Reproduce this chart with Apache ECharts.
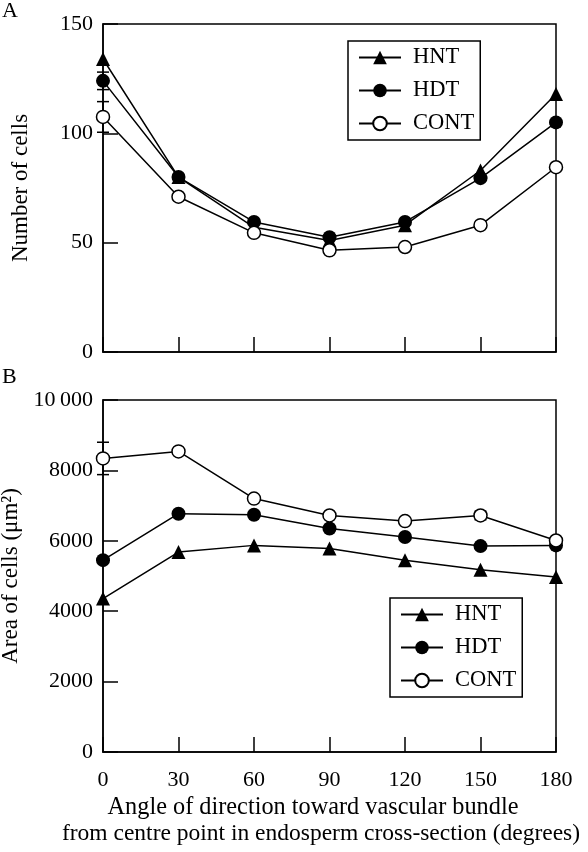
<!DOCTYPE html>
<html>
<head>
<meta charset="utf-8">
<script src="https://cdn.jsdelivr.net/npm/echarts@6/dist/echarts.min.js"></script>
<style>
html,body{margin:0;padding:0;background:#fff;}
#chart{width:588px;height:852px;}
</style>
</head>
<body>
<div id="chart"></div>
<script>
// ---- data ----
const angles = [0, 30, 60, 90, 120, 150, 180];
const seriesNames = ['HNT', 'HDT', 'CONT'];
// Panel A: number of cells
const cellsHNT  = [134, 80, 57, 51, 58, 83, 118];
const cellsHDT  = [124, 80, 59.5, 52.5, 59.5, 79.5, 105];
const cellsCONT = [107.5, 71, 54.5, 46.5, 48, 58, 84.5];
const cellsErrHDT  = [4, 0, 0, 0, 0, 0, 0];
const cellsErrCONT = [7, 0, 0, 0, 0, 0, 0];
// Panel B: area of cells (µm²)
const areaHNT  = [4360, 5680, 5870, 5780, 5450, 5180, 4970];
const areaHDT  = [5450, 6770, 6740, 6350, 6110, 5850, 5870];
const areaCONT = [8340, 8540, 7200, 6720, 6560, 6720, 6010];
const areaErrCONT = [460, 80, 0, 0, 0, 120, 0];
// axis ticks
const cellsTicks = [0, 50, 100, 150];
const areaTicks = [0, 2000, 4000, 6000, 8000, 10000];
const angleTicks = [0, 30, 60, 90, 120, 150, 180];

const FONT = 'Liberation Serif';
const chart = echarts.init(document.getElementById('chart'), null, {renderer: 'canvas'});

function pairs(vals) { return angles.map((a, i) => [a, vals[i]]); }
function errPairs(vals, errs) {
  return angles.map((a, i) => [a, vals[i], errs[i]]).filter(d => d[2] > 0);
}

const styles = {
  HNT:  {symbol: 'triangle', symbolSize: 14, fill: '#000'},
  HDT:  {symbol: 'circle', symbolSize: 14, fill: '#000'},
  CONT: {symbol: 'circle', symbolSize: 13, fill: '#fff'}
};

function lineSeries(name, vals, gi) {
  const s = styles[name];
  return {
    type: 'line', name: name, xAxisIndex: gi, yAxisIndex: gi,
    data: pairs(vals), symbol: s.symbol, symbolSize: s.symbolSize,
    showAllSymbol: true, animation: false, z: 3,
    lineStyle: {color: '#000', width: 1.5},
    itemStyle: {color: s.fill, borderColor: '#000', borderWidth: s.fill === '#fff' ? 1.5 : 0, opacity: 1},
    emphasis: {disabled: true}
  };
}

function errSeries(data, gi) {
  return {
    type: 'custom', xAxisIndex: gi, yAxisIndex: gi, data: data, z: 2, animation: false,
    silent: true,
    renderItem: function (params, api) {
      const x = api.value(0), v = api.value(1), e = api.value(2);
      const hi = api.coord([x, v + e]);
      const lo = api.coord([x, v - e]);
      const cw = 6;
      const st = {stroke: '#000', lineWidth: 1.5};
      return {type: 'group', children: [
        {type: 'line', shape: {x1: hi[0], y1: hi[1], x2: lo[0], y2: lo[1]}, style: st},
        {type: 'line', shape: {x1: hi[0] - cw, y1: hi[1], x2: hi[0] + cw, y2: hi[1]}, style: st},
        {type: 'line', shape: {x1: lo[0] - cw, y1: lo[1], x2: lo[0] + cw, y2: lo[1]}, style: st}
      ]};
    }
  };
}

function xAxis(gi, showLabels) {
  return {
    type: 'value', gridIndex: gi, min: angleTicks[0], max: angleTicks[angleTicks.length - 1], interval: 30,
    axisLine: {show: true, lineStyle: {color: '#000', width: 1.5}},
    axisTick: {show: true, inside: true, length: 15, lineStyle: {color: '#000', width: 1.5}},
    axisLabel: {show: showLabels, margin: 17, color: '#000', fontFamily: FONT, fontSize: 22},
    splitLine: {show: false}
  };
}

const legendBase = {
  orient: 'vertical', selectedMode: false,
  itemWidth: 42, itemHeight: 17, itemGap: 10,
  borderColor: '#000', borderWidth: 1.5, padding: [5, 6, 5, 10],
  textStyle: {fontFamily: FONT, fontSize: 22.5, color: '#000', padding: [0, 0, 0, 7]},
  data: seriesNames
};

const option = {
  backgroundColor: '#fff',
  animation: false,
  grid: [
    {left: 103, right: 32, top: 24, height: 328, show: true, borderColor: '#000', borderWidth: 1.5,
     containLabel: false, outerBoundsMode: 'none'},
    {left: 103, right: 32, top: 400, height: 352, show: true, borderColor: '#000', borderWidth: 1.5,
     containLabel: false, outerBoundsMode: 'none'}
  ],
  xAxis: [xAxis(0, false), xAxis(1, true)],
  yAxis: [
    {
      type: 'value', gridIndex: 0, min: cellsTicks[0], max: cellsTicks[cellsTicks.length - 1], interval: 50,
      name: 'Number of cells', nameLocation: 'middle', nameGap: 71,
      nameTextStyle: {fontFamily: FONT, fontSize: 23, color: '#000'},
      axisLine: {show: true, lineStyle: {color: '#000', width: 1.5}},
      axisTick: {show: true, inside: true, length: 15, lineStyle: {color: '#000', width: 1.5}},
      axisLabel: {margin: 10, color: '#000', fontFamily: FONT, fontSize: 22},
      splitLine: {show: false}
    },
    {
      type: 'value', gridIndex: 1, min: areaTicks[0], max: areaTicks[areaTicks.length - 1], interval: 2000,
      name: 'Area of cells (μm²)', nameLocation: 'middle', nameGap: 71,
      nameTextStyle: {fontFamily: FONT, fontSize: 23, color: '#000'},
      axisLine: {show: true, lineStyle: {color: '#000', width: 1.5}},
      axisTick: {show: true, inside: true, length: 15, lineStyle: {color: '#000', width: 1.5}},
      axisLabel: {margin: 10, color: '#000', fontFamily: FONT, fontSize: 22,
        formatter: v => v >= 10000 ? '10\u2009000' : String(v)},
      splitLine: {show: false}
    }
  ],
  legend: [
    Object.assign({}, legendBase, {left: 348, top: 41}),
    Object.assign({}, legendBase, {left: 390, top: 598})
  ],
  series: [
    errSeries(errPairs(cellsHDT, cellsErrHDT), 0),
    errSeries(errPairs(cellsCONT, cellsErrCONT), 0),
    lineSeries('HNT', cellsHNT, 0),
    lineSeries('HDT', cellsHDT, 0),
    lineSeries('CONT', cellsCONT, 0),
    errSeries(errPairs(areaCONT, areaErrCONT), 1),
    lineSeries('HNT', areaHNT, 1),
    lineSeries('HDT', areaHDT, 1),
    lineSeries('CONT', areaCONT, 1)
  ],
  graphic: [
    {type: 'text', left: 2, top: 0, style: {text: 'A', font: '22px "Liberation Serif"', fill: '#000'}},
    {type: 'text', left: 2, top: 366, style: {text: 'B', font: '22px "Liberation Serif"', fill: '#000'}},
    {type: 'text', x: 313, y: 808, style: {text: 'Angle of direction toward vascular bundle',
      font: '24.3px "Liberation Serif"', fill: '#000', align: 'center', verticalAlign: 'middle'}},
    {type: 'text', x: 321, y: 834, style: {text: 'from centre point in endosperm cross-section (degrees)',
      font: '23.5px "Liberation Serif"', fill: '#000', align: 'center', verticalAlign: 'middle'}}
  ]
};
chart.setOption(option);
</script>
</body>
</html>
